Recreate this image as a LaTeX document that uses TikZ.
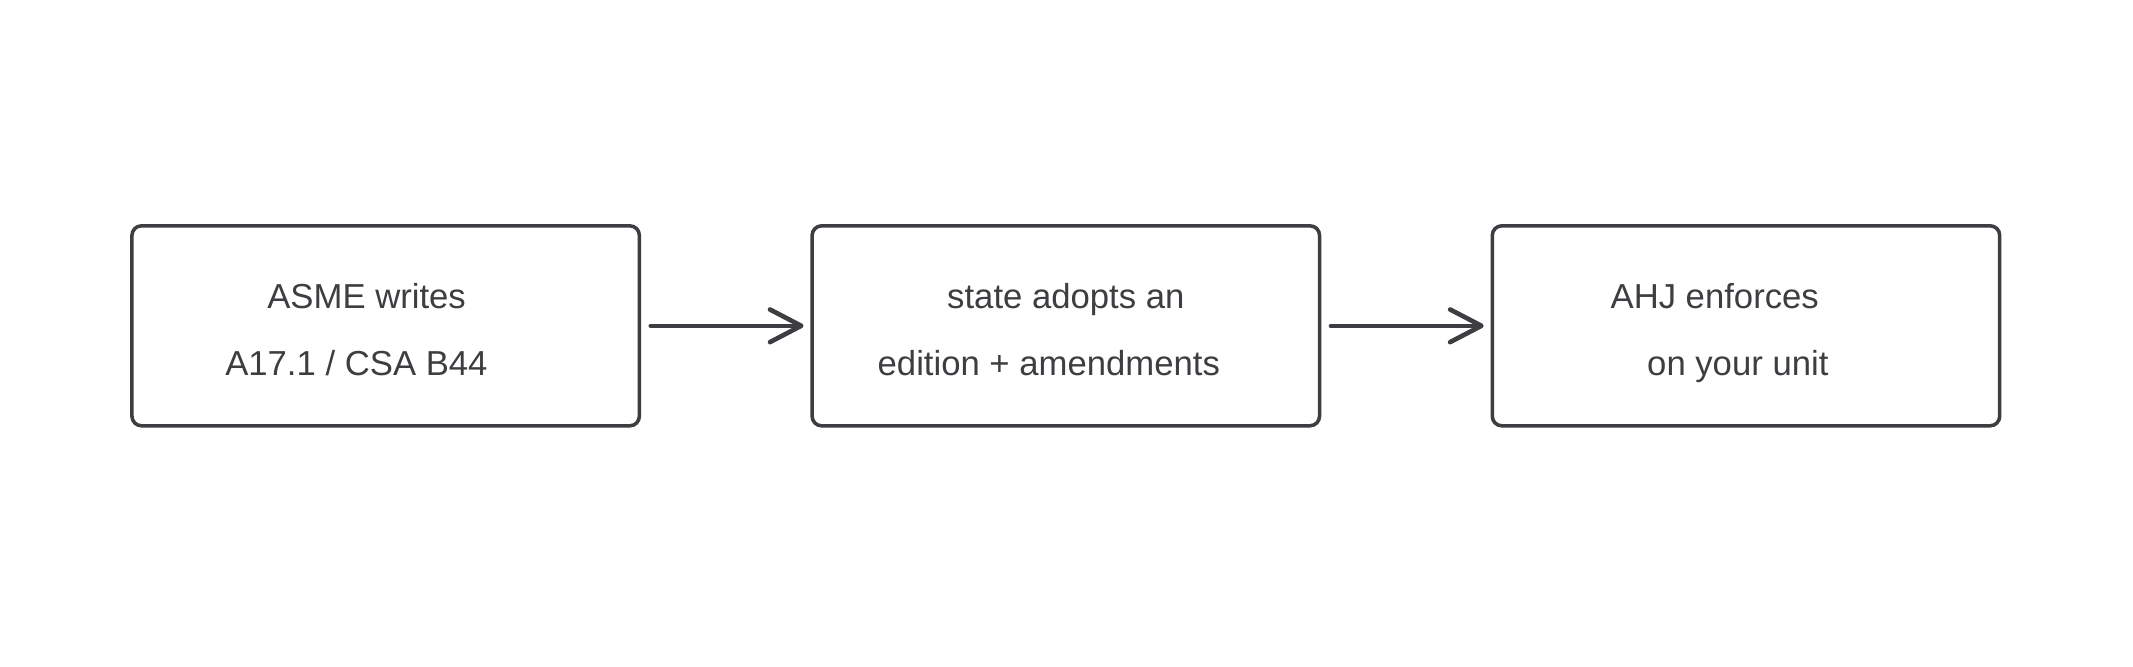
\documentclass[tikz,border=0pt]{standalone}
\usepackage{fontspec}
\setmainfont{Liberation Sans}
\usetikzlibrary{arrows.meta}
\definecolor{ink}{HTML}{3E3E42}
\tikzset{
  x=1pt, y=-1pt,
  stepbox/.style={draw=ink, line width=2.6pt, rounded corners=7pt, minimum width=373pt, minimum height=147pt, inner sep=0pt},
  txt/.style={text=ink, font=\fontsize{25.5}{30}\selectfont, anchor=base, inner sep=0pt},
  arr/.style={draw=ink, line width=3.2pt, line cap=round, -{Straight Barb[length=23pt, width=24pt, line width=3.4pt, line cap=round, round]}, shorten <=7pt, shorten >=5pt}
}
\begin{document}
\begin{tikzpicture}
\useasboundingbox[fill=white] (0,0) rectangle (1568,490.3);
\node[stepbox] (b1) at (283.5,239.5) {};
\node[stepbox] (b2) at (783.5,239.5) {};
\node[stepbox] (b3) at (1283.5,239.5) {};
\node[txt] (t11) at (269.5,227) {ASME writes};
\node[txt] (t12) at (262,276) {A17.1 / CSA B44};
\node[txt] (t21) at (783.5,227) {state adopts an};
\node[txt] (t22) at (771,276) {edition + amendments};
\node[txt] (t31) at (1260.5,227) {AHJ enforces};
\node[txt] (t32) at (1277.5,276) {on your unit};
\draw[arr] (b1.east) -- (b2.west);
\draw[arr] (b2.east) -- (b3.west);
\end{tikzpicture}
\end{document}
